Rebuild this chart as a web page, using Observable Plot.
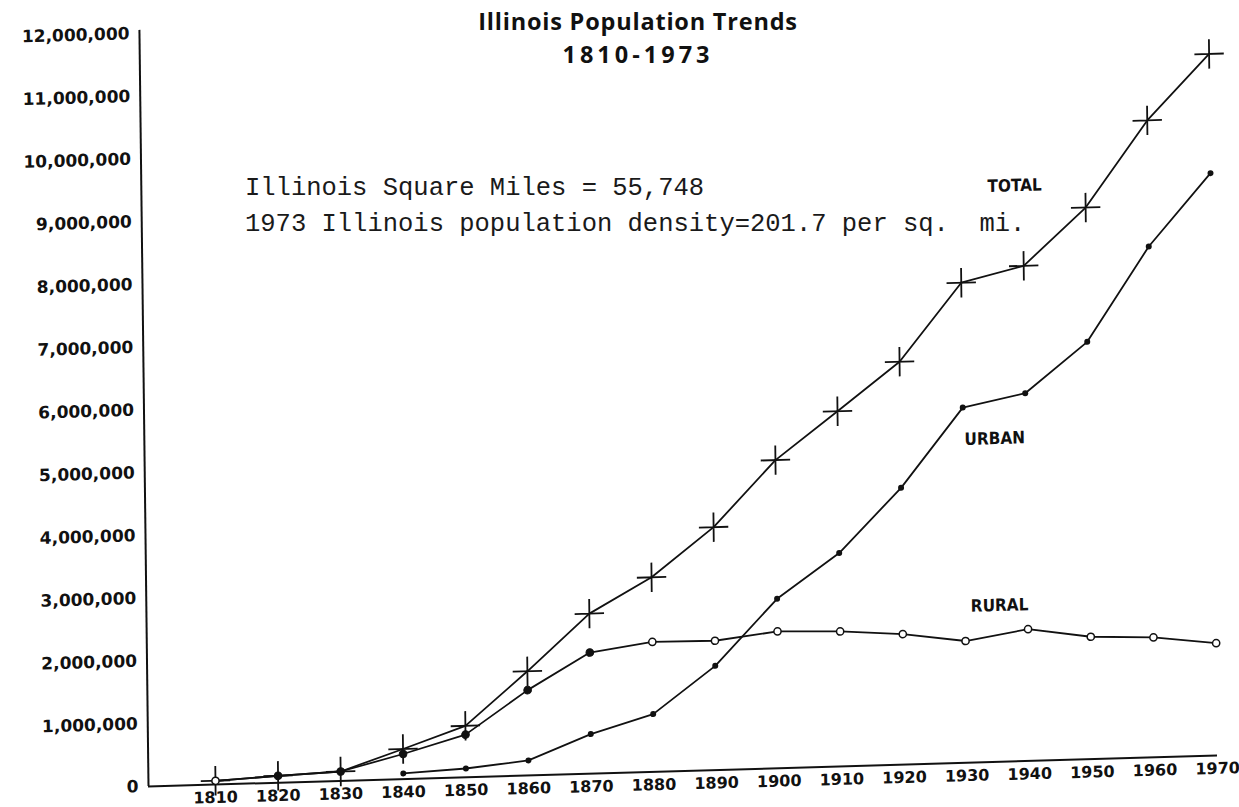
<!DOCTYPE html>
<html>
<head>
<meta charset="utf-8">
<script src="https://cdn.jsdelivr.net/npm/d3@7"></script>
<script src="https://cdn.jsdelivr.net/npm/@observablehq/plot@0.6"></script>
<style>
  html, body { margin: 0; padding: 0; background: #fff; }
  #wrap { position: relative; width: 1239px; height: 807px; overflow: hidden; background: #fff; }
  #chart { position: absolute; left: 0; top: 0; }
  .title { position: absolute; left: 0; width: 1276px; text-align: center; font-family: "Open Sans", sans-serif; font-weight: 700; font-size: 23.5px; line-height: 0.8; color: #111; white-space: nowrap; }
  .note { position: absolute; left: 245px; font-family: "Liberation Mono", "DejaVu Sans Mono", monospace; font-size: 25.5px; line-height: 1; white-space: pre; color: #1a1a1a; }
</style>
</head>
<body>
<div id="wrap">
  <div id="chart"></div>
  <div class="title" style="top:11.5px;letter-spacing:0.8px;">Illinois Population Trends</div>
  <div class="title" style="top:44.5px;letter-spacing:4px;">1810-1973</div>
  <div class="note" style="top:176px;">Illinois Square Miles = 55,748</div>
  <div class="note" style="top:212px;">1973 Illinois population density=201.7 per sq.  mi.</div>
</div>
<script>
// ---- data (persons) ----
const years = [1810, 1820, 1830, 1840, 1850, 1860, 1870, 1880, 1890, 1900, 1910, 1920, 1930, 1940, 1950, 1960, 1970];
const total = [60000, 110000, 150000, 480000, 820000, 1660000, 2550000, 3100000, 3870000, 4910000, 5660000, 6420000, 7650000, 7890000, 8790000, 10150000, 11180000];
const rural = [60000, 110000, 150000, 400000, 680000, 1360000, 1930000, 2070000, 2060000, 2180000, 2150000, 2080000, 1940000, 2100000, 1950000, 1910000, 1790000];
const urbanYears = [1840, 1850, 1860, 1870, 1880, 1890, 1900, 1910, 1920, 1930, 1940, 1950, 1960, 1970];
const urban = [90000, 140000, 240000, 630000, 920000, 1660000, 2700000, 3400000, 4410000, 5660000, 5860000, 6650000, 8140000, 9280000];
const xTicks = years;
const yTicks = [0, 1000000, 2000000, 3000000, 4000000, 5000000, 6000000, 7000000, 8000000, 9000000, 10000000, 11000000, 12000000];
const seriesNames = ["TOTAL", "URBAN", "RURAL"];

// ---- build ----
const rows = years.map((year, i) => ({year, total: total[i], rural: rural[i]}));
const urbanRows = urbanYears.map((year, i) => ({year, urban: urban[i]}));
const xStart = 1799.3;
const ink = "#111";
const labelFont = "'DejaVu Sans Condensed', 'DejaVu Sans', sans-serif";

const chart = Plot.plot({
  width: 1239,
  height: 807,
  marginTop: 33,
  marginBottom: 21,
  marginLeft: 148,
  marginRight: 22,
  style: {fontFamily: "'DejaVu Sans', sans-serif", fontSize: "17px", fontWeight: "bold", color: ink, background: "transparent", overflow: "visible"},
  x: {domain: [xStart, 1970], label: null},
  y: {domain: [0, 12000000], label: null},
  marks: [
    Plot.axisX({ticks: xTicks, tickFormat: d => String(d), tickSize: 0, tickPadding: 7, fontSize: 16}),
    Plot.axisY({ticks: yTicks, tickFormat: d3.format(","), tickSize: 0, tickPadding: 10, fontSize: 17}),
    Plot.ruleY([0], {x1: xStart, x2: 1970, stroke: ink, strokeWidth: 2}),
    Plot.ruleX([xStart], {y1: 0, y2: 12050000, stroke: ink, strokeWidth: 2}),
    Plot.line(rows, {x: "year", y: "rural", stroke: ink, strokeWidth: 1.8}),
    Plot.line(urbanRows, {x: "year", y: "urban", stroke: ink, strokeWidth: 1.8}),
    Plot.line(rows, {x: "year", y: "total", stroke: ink, strokeWidth: 1.8}),
    Plot.dot(rows, {x: "year", y: "total", symbol: "plus", r: 9.5, stroke: ink, strokeWidth: 1.8}),
    Plot.dot(rows, {filter: d => d.year >= 1820 && d.year <= 1870, x: "year", y: "rural", r: 3.8, fill: ink, stroke: ink, strokeWidth: 1}),
    Plot.dot(rows, {filter: d => d.year < 1820 || d.year > 1870, x: "year", y: "rural", r: 3.6, fill: "white", stroke: ink, strokeWidth: 1.5}),
    Plot.dot(urbanRows, {x: "year", y: "urban", r: 3, fill: ink}),
    Plot.text([seriesNames[0]], {x: 1938.7, y: 9170000, text: d => d, fontFamily: labelFont, fontWeight: "bold", fontSize: 17, fill: ink}),
    Plot.text([seriesNames[1]], {x: 1935.05, y: 5150000, text: d => d, fontFamily: labelFont, fontWeight: "bold", fontSize: 17, fill: ink}),
    Plot.text([seriesNames[2]], {x: 1935.5, y: 2490000, text: d => d, fontFamily: labelFont, fontWeight: "bold", fontSize: 17, fill: ink})
  ]
});
// the drawn axes of the original are slightly askew
chart.style.transformOrigin = "148px 786px";
chart.style.transform = "matrix(1, -0.029, 0.012, 1, 0, 0)";
document.getElementById("chart").appendChild(chart);
</script>
</body>
</html>
